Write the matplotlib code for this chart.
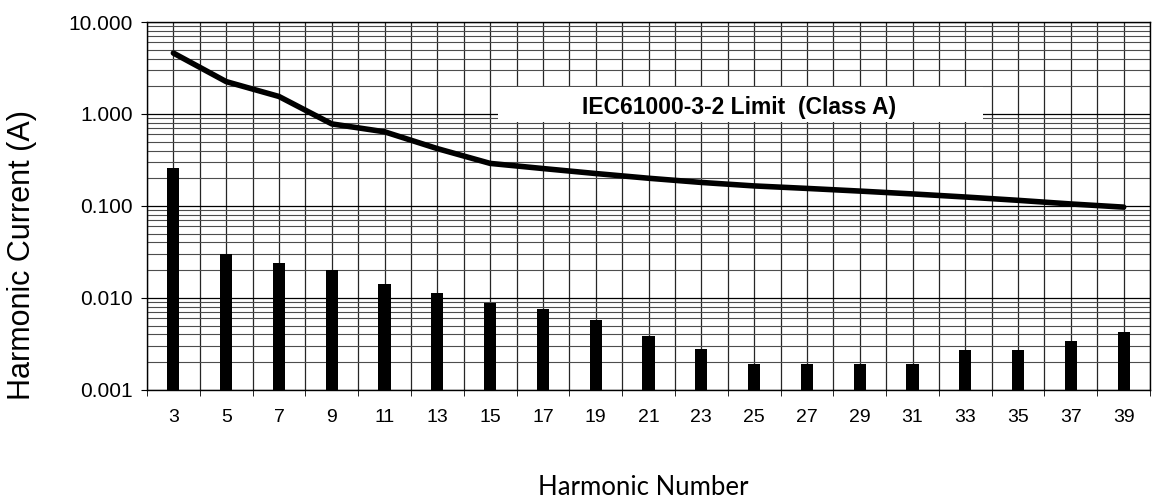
import numpy as np
import matplotlib
matplotlib.use("Agg")
import matplotlib.pyplot as plt
from matplotlib.patches import Rectangle
from matplotlib.ticker import FixedLocator, LogLocator, NullFormatter

# harmonic orders on the x axis
harmonics = [3, 5, 7, 9, 11, 13, 15, 17, 19, 21, 23, 25, 27, 29, 31, 33, 35, 37, 39]

measured = [0.26, 0.030, 0.024, 0.020, 0.0143, 0.0112, 0.0088, 0.0076, 0.0058,
            0.0038, 0.0028, 0.0019, 0.0019, 0.0019, 0.0019, 0.0027, 0.0027, 0.0034, 0.0043]

# limit curve (A)
limit = [4.6, 2.25, 1.55, 0.78, 0.64, 0.42, 0.29, 0.255, 0.225, 0.20, 0.18,
         0.165, 0.155, 0.145, 0.135, 0.125, 0.115, 0.105, 0.097]

ytick_vals = [0.001, 0.01, 0.1, 1, 10]
ytick_text = ["0.001", "0.010", "0.100", "1.000", "10.000"]

plt.rcParams['font.family'] = ['Liberation Sans', 'DejaVu Sans']

fig = plt.figure(figsize=(11.61, 5.01), dpi=100)
ax = fig.add_axes([0.1266, 0.222, 0.864, 0.734])

x = np.arange(len(harmonics))

ax.bar(x, measured, width=0.23, color='black', zorder=3)
ax.plot(x, limit, color='black', lw=4.0, solid_capstyle='round', zorder=4)

ax.set_yscale('log')
ax.set_ylim(0.001, 10)
ax.set_xlim(-0.5, len(harmonics) - 0.5)

ax.set_yticks(ytick_vals)
ax.set_yticklabels(ytick_text, fontsize=15)
ax.yaxis.set_minor_locator(LogLocator(base=10, subs=np.arange(2, 10)))
ax.yaxis.set_minor_formatter(NullFormatter())

ax.set_xticks(x)
ax.set_xticklabels([str(h) for h in harmonics], fontsize=14)
ax.xaxis.set_minor_locator(FixedLocator(np.arange(-0.5, len(harmonics), 1.0)))

ax.tick_params(axis='x', which='major', length=0, pad=14)
ax.tick_params(axis='x', which='minor', length=4, direction='out', color='black')
ax.tick_params(axis='y', which='major', length=4, direction='out', pad=6)
ax.tick_params(axis='y', which='minor', length=0)

# log-paper style grid
ax.grid(True, which='major', axis='y', color='black', lw=0.9, zorder=1)
ax.grid(True, which='minor', axis='y', color='0.3', lw=0.8, zorder=1)
ax.grid(True, which='major', axis='x', color='0.15', lw=0.9, zorder=1)
ax.grid(True, which='minor', axis='x', color='0.15', lw=0.9, zorder=1)
ax.set_axisbelow(True)

for s in ax.spines.values():
    s.set_color('black')
    s.set_linewidth(1.0)

# white label panel that hides the grid
ax.add_patch(Rectangle((0.35, 0.728), 0.4835, 0.095, transform=ax.transAxes,
                       facecolor='white', edgecolor='none', zorder=2))
ax.text(0.59, 0.768, "IEC61000-3-2 Limit  (Class A)", transform=ax.transAxes,
        ha='center', va='center', fontsize=16.5, fontweight='bold', zorder=5)

ax.set_ylabel("Harmonic Current (A)", fontsize=22)
ax.yaxis.set_label_coords(-0.1097, 0.367)
ax.set_xlabel("Harmonic Number", fontsize=18.5, family=['Lato', 'DejaVu Sans'])
ax.xaxis.set_label_coords(0.4945, -0.232)

fig.savefig("out.png", dpi=100)
